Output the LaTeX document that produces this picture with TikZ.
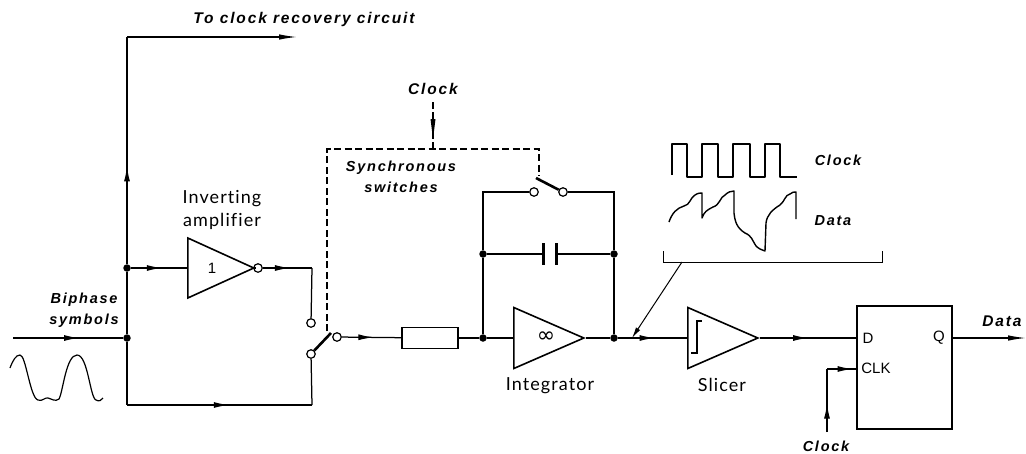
\documentclass[tikz,border=0pt]{standalone}
\usepackage{fontspec}
\setmainfont{Liberation Sans}
\newfontfamily\lablfont[LetterSpace=12]{Liberation Sans}
\newfontfamily\plainfont[LetterSpace=6,Ligatures={NoCommon,NoRare,NoContextual}]{Lato}
\usetikzlibrary{arrows.meta,shapes.geometric,decorations.markings}
\tikzset{
  wire/.style={line width=1.25pt,line join=miter},
  thinwire/.style={line width=1pt},
  tipp/.style={-{Latex[length=18pt,width=5.5pt]}},
  midarrow/.style={postaction={decorate},decoration={markings,mark=at position #1 with {\arrow{Latex[length=15pt,width=6pt]}}}},
  dashline/.style={line width=1.2pt,dash pattern=on 7pt off 3.5pt},
  dotnode/.style={circle,fill=black,draw=none,minimum size=7.5pt,inner sep=0pt},
  contact/.style={circle,draw=black,fill=white,line width=1.2pt,minimum size=8.5pt,inner sep=0pt},
  blade/.style={line width=2.6pt},
  amp/.style={isosceles triangle,isosceles triangle stretches=true,draw=black,line width=1.6pt,inner sep=0pt,shape border rotate=0,anchor=lower side},
  lbl/.style={font=\lablfont\bfseries\itshape\fontsize{14.5}{14}\selectfont,inner sep=0pt,align=center},
  lblbig/.style={font=\lablfont\bfseries\itshape\fontsize{15.5}{14}\selectfont,inner sep=0pt,align=center},
  lbltwo/.style={font=\lablfont\bfseries\itshape\fontsize{14.5}{21}\selectfont,inner sep=0pt,align=center},
  plain/.style={font=\plainfont\fontsize{18}{23}\selectfont,inner sep=0pt,align=center},
  boxpin/.style={font=\fontsize{15}{15}\selectfont,inner sep=0pt},
  block/.style={draw=black,line width=1.5pt,inner sep=0pt}
}
\begin{document}
\begin{tikzpicture}[x=1pt,y=-1pt]
\useasboundingbox (0,0) rectangle (1026,453);
% free ends
\coordinate (inL) at (13,338);
\coordinate (topEnd) at (297,37);
\coordinate (topC) at (127,37);
\coordinate (botC) at (127,405);
\coordinate (botR) at (312,405);
\coordinate (invC) at (312,268);
% junctions
\node[dotnode] (jIn) at (127,338) {};
\node[dotnode] (jUp) at (127,268) {};
\node[dotnode] (jL) at (483,338) {};
\node[dotnode] (jCL) at (483,254) {};
\node[dotnode] (jR) at (614,338) {};
\node[dotnode] (jCR) at (614,254) {};
% amplifiers
\node[amp,minimum width=60pt,minimum height=66pt] (inv) at (187,268) {};
\node[font=\fontsize{15}{15}\selectfont,inner sep=0pt] (one) at (212,268) {1};
\node[amp,minimum width=61pt,minimum height=70pt] (integ) at (513,338) {};
\node[font=\fontsize{22}{22}\selectfont\fontspec{DejaVu Sans},inner sep=0pt] (inf) at (546,337) {∞};
\node[amp,minimum width=61pt,minimum height=70pt] (slice) at (687,338) {};
% bubble and contacts
\node[contact] (bub) at (258,268) {};
\node[contact] (cA) at (311,323) {};
\node[contact] (cB) at (311,354) {};
\node[contact] (cC) at (337,337) {};
\node[contact] (cD) at (534,192) {};
\node[contact] (cE) at (563,192) {};
% blocks
\node[block,minimum width=56pt,minimum height=21pt] (res) at (430,338) {};
\node[block,minimum width=95pt,minimum height=123pt] (ff) at (904.5,367.5) {};
% input
\draw[wire,midarrow=0.6] (inL) -- (jIn);
\draw[wire] (jIn) -- (jUp);
\draw[wire,midarrow=0.43] (jUp) -- (topC);
\draw[wire,tipp] (topC) -- (topEnd);
\draw[wire,midarrow=0.55] (jUp) -- (inv.lower side);
\draw[wire] (inv.apex) -- (bub);
\draw[wire,midarrow=0.55] (bub) -- (invC);
\draw[wire] (invC) -- (cA);
\draw[wire] (jIn) -- (botC);
\draw[wire,midarrow=0.55] (botC) -- (botR);
\draw[wire] (botR) -- (cB);
% switch 1
\coordinate (bladeA) at (331,333);
\draw[blade] (cB) -- (bladeA);
\draw[wire,midarrow=0.53] (cC) -- (res);
\draw[wire] (res) -- (jL);
\draw[wire] (jL) -- (integ.lower side);
\draw[wire] (integ.apex) -- (jR);
% feedback
\coordinate (fbL) at (483,192);
\coordinate (fbR) at (614,192);
\draw[wire] (jL) -- (jCL) -- (fbL) -- (cD);
\draw[wire] (jR) -- (jCR) -- (fbR) -- (cE);
\coordinate (bladeB) at (536,178);
\draw[blade] (cE) -- (bladeB);
% capacitor
\coordinate (capA) at (543,254);
\coordinate (capB) at (556,254);
\draw[wire] (jCL) -- (capA);
\draw[wire] (jCR) -- (capB);
\draw[line width=3pt] (543,243) -- (543,265);
\draw[line width=3pt] (556,243) -- (556,265);
% dashed control
\coordinate (dA) at (327,149);
\coordinate (dB) at (539,149);
\coordinate (dC) at (539,176);
\coordinate (dD) at (327,331);
\coordinate (dE) at (433,149);
\coordinate (dF) at (433,102);
\draw[dashline] (dD) -- (dA) -- (dB) -- (dC);
\draw[line width=1.2pt,dash pattern=on 7pt off 3pt] (dF) -- (dE);
\fill (433,139) -- (430.5,119) -- (435.5,119) -- cycle;
% slicer and ff
\draw[wire,midarrow=0.53] (jR) -- (slice.lower side);
\draw[wire,midarrow=0.5] (slice.apex) -- (ff.west |- slice.apex);
\draw[line width=1.2pt] (691,353) -- (697,353) -- (697,321) -- (702,321);
\coordinate (outEnd) at (1026,338);
\draw[wire,tipp] (ff.east |- outEnd) -- (outEnd);
% clock to ff
\coordinate (clkB) at (827,432);
\coordinate (clkC) at (827,369);
\coordinate (clkD) at (857,369);
\draw[wire,midarrow=0.45] (clkB) -- (clkC);
\draw[wire,midarrow=0.85] (clkC) -- (clkD);
% pointer
\coordinate (brA) at (663,251);
\coordinate (brB) at (663,262);
\coordinate (brC) at (882,262);
\coordinate (brD) at (882,251);
\coordinate (ptA) at (682,262);
\coordinate (ptB) at (632,338);
\draw[thinwire] (brA) -- (brB) -- (brC) -- (brD);
\draw[thinwire,-{Latex[length=11pt,width=5pt]}] (ptA) -- (ptB);
% waveforms
\draw[line width=1.1pt,line join=round] (672,175) -- (672,144) -- (687,144) -- (687,177) -- (702,177) -- (702,144) -- (718,144) -- (718,177) -- (733,177) -- (733,144) -- (750,144) -- (750,177) -- (765,177) -- (765,144) -- (780,144) -- (780,177) -- (797,177);
\draw[line width=1.4pt,line join=round] (669,222) .. controls (672,213) and (677,208) .. (684,206) .. controls (690,205) and (690,198) .. (695,195) .. controls (698,193) and (700,193) .. (702,193) -- (702,218) .. controls (704,212) and (707,210) .. (713,207) .. controls (720,205) and (720,197) .. (725,195) .. controls (728,192) and (731,191) .. (734,191) -- (734,213) .. controls (735,222) and (737,228) .. (745,233) .. controls (752,236) and (752,240) .. (756,246) .. controls (759,249) and (762,250) .. (765,251) -- (766,223) .. controls (767,215) and (772,210) .. (780,205) .. controls (785,201) and (785,195) .. (790,194) .. controls (792,192) and (794,192) .. (796,192) -- (796,219);
\draw[line width=1.2pt,line join=round] (10,368) .. controls (13,360) and (16,355) .. (20,355) .. controls (26,355) and (30,398) .. (38,400) .. controls (42,402) and (45,397) .. (48,398) .. controls (52,399) and (55,402) .. (59,399) .. controls (63,392) and (66,355) .. (77,355) .. controls (88,355) and (90,398) .. (96,400) .. controls (99,402) and (102,400) .. (103,398);
% labels
\node[lblbig] (tTop) at (304,19) {To clock recovery circuit};
\node[lblbig] (tClk1) at (433,89) {Clock};
\node[lbltwo] (tSync) at (401,177) {Synchronous\\switches};
\node[lbltwo] (tBi) at (84,310) {Biphase\\symbols};
\node[plain] (tInv) at (222,210) {Inverting\\amplifier};
\node[plain] (tInt) at (550,386) {Integrator};
\node[plain] (tSli) at (722,385) {Slicer};
\node[lbl] (tClk2) at (838,160) {Clock};
\node[lbl] (tDat) at (833,221) {Data};
\node[lblbig] (tOut) at (1002,321) {Data};
\node[lbl] (tClk3) at (826,446) {Clock};
\node[boxpin] (tD) at (868,338) {D};
\node[boxpin] (tQ) at (939,338) {Q};
\node[boxpin] (tCK) at (876,368) {CLK};
\end{tikzpicture}
\end{document}
